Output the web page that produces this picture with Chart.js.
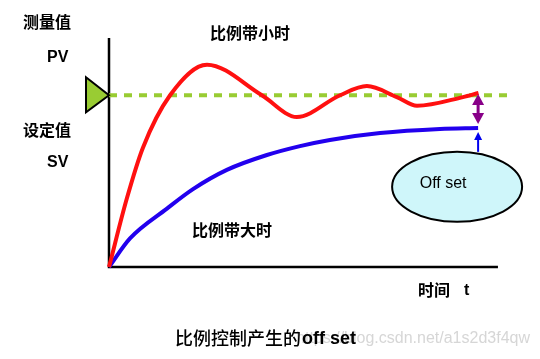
<!DOCTYPE html>
<html>
<head>
<meta charset="utf-8">
<script src="https://cdn.jsdelivr.net/npm/chart.js@4"></script>
<style>
  body { margin: 0; background: #fff; }
  #wrap { width: 540px; height: 359px; position: relative; }
</style>
</head>
<body>
<div id="wrap"><canvas id="pChart"></canvas></div>
<script>
// time axis runs 0..100, response axis 0..100
const setPoint = 75;
const dashEnd = 103;

// small proportional band (red)
const redTime = [0, 4.6, 8.7, 15.7, 25.2, 39.3, 48.3, 59.4, 66.3, 74.0, 79.2, 91.0, 95.0];
const redValue = [0, 30, 52, 75, 88.3, 75, 65.5, 75, 79, 74.2, 70.4, 74.2, 76];

// large proportional band (blue)
const blueTime = [0, 5.4, 14.9, 21.6, 30.3, 40.6, 49.1, 56.8, 69.7, 85.1, 94.9];
const blueValue = [0, 12.5, 25.5, 34, 42.4, 48.9, 52.8, 55.5, 58.5, 60.3, 60.7];

const offsetAt = 94.9;        // where the offset arrow sits
const bubbleAt = [89.5, 35];  // "Off set" bubble centre

const toPoints = (xs, ys) => xs.map((x, i) => ({ x: x, y: ys[i] }));

const drawing = {
    id: 'drawing',
    beforeDatasetsDraw(chart) {
        const ctx = chart.ctx;
        const xs = chart.scales.x, ys = chart.scales.y;
        ctx.save();
        ctx.strokeStyle = '#000';
        ctx.lineWidth = 2.5;
        ctx.beginPath();
        ctx.moveTo(xs.getPixelForValue(0), ys.getPixelForValue(100));
        ctx.lineTo(xs.getPixelForValue(0), ys.getPixelForValue(0));
        ctx.lineTo(xs.getPixelForValue(100), ys.getPixelForValue(0));
        ctx.stroke();
        ctx.restore();
    },
    afterDatasetsDraw(chart) {
        const ctx = chart.ctx;
        const xs = chart.scales.x, ys = chart.scales.y;
        const x0 = xs.getPixelForValue(0);
        const sp = ys.getPixelForValue(setPoint);
        ctx.save();

        // set point marker
        ctx.fillStyle = '#99cc33';
        ctx.strokeStyle = '#000';
        ctx.lineWidth = 2;
        ctx.beginPath();
        ctx.moveTo(x0 - 23, sp - 18);
        ctx.lineTo(x0, sp);
        ctx.lineTo(x0 - 23, sp + 17);
        ctx.closePath();
        ctx.fill();
        ctx.stroke();

        // purple double arrow between set point and blue curve
        const ax = xs.getPixelForValue(offsetAt);
        const top = ys.getPixelForValue(redValue[redValue.length - 1]) + 1;
        const bot = ys.getPixelForValue(blueValue[blueValue.length - 1]) - 4;
        ctx.fillStyle = '#880088';
        ctx.strokeStyle = '#880088';
        ctx.lineWidth = 3;
        ctx.beginPath();
        ctx.moveTo(ax, top + 8);
        ctx.lineTo(ax, bot - 8);
        ctx.stroke();
        ctx.beginPath();
        ctx.moveTo(ax, top);
        ctx.lineTo(ax - 6, top + 11);
        ctx.lineTo(ax + 6, top + 11);
        ctx.closePath();
        ctx.fill();
        ctx.beginPath();
        ctx.moveTo(ax, bot);
        ctx.lineTo(ax - 6, bot - 11);
        ctx.lineTo(ax + 6, bot - 11);
        ctx.closePath();
        ctx.fill();

        // bubble
        const bx = xs.getPixelForValue(bubbleAt[0]);
        const by = ys.getPixelForValue(bubbleAt[1]);
        const btop = by - 35;
        const bArrowTop = ys.getPixelForValue(blueValue[blueValue.length - 1]) + 4;
        ctx.strokeStyle = '#0000ee';
        ctx.fillStyle = '#0000ee';
        ctx.lineWidth = 2;
        ctx.beginPath();
        ctx.moveTo(ax, btop);
        ctx.lineTo(ax, bArrowTop + 6);
        ctx.stroke();
        ctx.beginPath();
        ctx.moveTo(ax, bArrowTop);
        ctx.lineTo(ax - 4, bArrowTop + 8);
        ctx.lineTo(ax + 4, bArrowTop + 8);
        ctx.closePath();
        ctx.fill();

        ctx.fillStyle = '#cff6fa';
        ctx.strokeStyle = '#000';
        ctx.lineWidth = 2;
        ctx.beginPath();
        ctx.ellipse(bx, by, 65, 35, 0, 0, Math.PI * 2);
        ctx.fill();
        ctx.stroke();

        ctx.fillStyle = '#000';
        ctx.textAlign = 'center';
        ctx.textBaseline = 'middle';
        ctx.font = '16px "Liberation Sans", Arial, sans-serif';
        ctx.fillText('Off set', bx - 14, by - 3);

        // labels
        ctx.textAlign = 'left';
        ctx.font = 'bold 16px "Noto Sans CJK SC", sans-serif';
        ctx.fillText('测量值', 23, 22);
        ctx.fillText('设定值', 23, 130);
        ctx.fillText('比例带小时', 210, 33);
        ctx.fillText('比例带大时', 192, 230);
        ctx.fillText('时间', 418, 290);
        ctx.font = 'bold 16px "Liberation Sans", Arial, sans-serif';
        ctx.fillText('PV', 47, 58);
        ctx.fillText('SV', 47, 163);
        ctx.fillText('t', 464, 291);

        // caption + watermark
        ctx.textAlign = 'right';
        ctx.fillStyle = 'rgba(200,200,200,0.75)';
        ctx.font = '16px "Liberation Sans", Arial, sans-serif';
        ctx.fillText('https://blog.csdn.net/a1s2d3f4qw', 530, 339);
        ctx.textAlign = 'left';
        ctx.fillStyle = '#000';
        ctx.font = '500 18px "Noto Sans CJK SC", serif';
        ctx.fillText('比例控制产生的', 175, 338);
        ctx.font = 'bold 18px "Liberation Sans", Arial, sans-serif';
        ctx.fillText('off set', 302, 339);

        ctx.restore();
    }
};

function createChart() {
    const ctx = document.getElementById('pChart').getContext('2d');
    new Chart(ctx, {
        type: 'line',
        data: {
            datasets: [{
                label: '比例带小时',
                data: toPoints(redTime, redValue),
                borderColor: '#ff1010',
                borderWidth: 4,
                cubicInterpolationMode: 'monotone',
                pointRadius: 0,
                clip: false
            }, {
                label: '比例带大时',
                data: toPoints(blueTime, blueValue),
                borderColor: '#2200ee',
                borderWidth: 4,
                cubicInterpolationMode: 'monotone',
                pointRadius: 0,
                clip: false
            }, {
                label: '设定值',
                data: [{ x: 0, y: setPoint }, { x: dashEnd, y: setPoint }],
                borderColor: '#99cc33',
                borderWidth: 4,
                borderDash: [8, 7],
                pointRadius: 0,
                clip: false
            }]
        },
        plugins: [drawing],
        options: {
            responsive: true,
            maintainAspectRatio: false,
            animation: false,
            layout: { padding: { left: 109, right: 26.5, top: 38, bottom: 92 } },
            plugins: { legend: { display: false }, tooltip: { enabled: false } },
            scales: {
                x: { type: 'linear', min: 0, max: 104, display: false },
                y: { min: 0, max: 100, display: false }
            }
        }
    });
}

document.addEventListener('DOMContentLoaded', createChart);
</script>
</body>
</html>
